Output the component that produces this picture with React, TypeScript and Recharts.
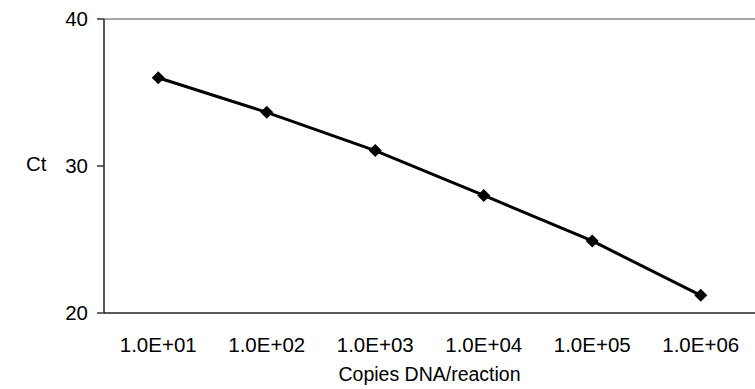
import { LineChart, Line, XAxis, YAxis, ReferenceLine } from 'recharts'

const copies = ['1.0E+01', '1.0E+02', '1.0E+03', '1.0E+04', '1.0E+05', '1.0E+06']
const ctValues = [36.0, 33.65, 31.05, 28.0, 24.9, 21.2]
const yTicks = [20, 30, 40]

const chartData = copies.map((c, i) => ({ copies: c, ct: ctValues[i] }))

const font = '"Liberation Sans", Arial, sans-serif'
const fs = 20.5

function Diamond(props: any) {
  const { cx, cy } = props
  if (cx == null || cy == null) return null
  const r = 6.5
  return (
    <polygon
      points={`${cx},${cy - r} ${cx + r},${cy} ${cx},${cy + r} ${cx - r},${cy}`}
      fill="#000"
      stroke="none"
    />
  )
}

export default function App() {
  return (
    <div style={{ position: 'absolute', left: 0, top: 0, background: '#fff', fontFamily: font }}>
      <LineChart width={755} height={389} data={chartData} margin={{ top: 19, right: 0, left: 0, bottom: 0 }}>
        <XAxis
          dataKey="copies"
          scale="band"
          height={76}
          tickLine={false}
          tickSize={0}
          tickMargin={24}
          axisLine={{ stroke: '#222', strokeWidth: 1.5 }}
          tick={{ fontSize: fs, fill: '#000', fontFamily: font }}
          label={{ value: 'Copies DNA/reaction', position: 'insideBottom', offset: 8, fontSize: 19.5, fill: '#000', fontFamily: font }}
        />
        <YAxis
          width={104}
          domain={[20, 40]}
          ticks={yTicks}
          tickSize={7}
          tickMargin={9}
          tickLine={{ stroke: '#333', strokeWidth: 1.5 }}
          axisLine={{ stroke: '#222', strokeWidth: 1.5 }}
          tick={{ fontSize: fs, fill: '#000', fontFamily: font }}
          label={{ value: 'Ct', position: 'insideLeft', offset: 26, dy: -2, fontSize: fs, fill: '#000', fontFamily: font }}
        />
        <ReferenceLine y={40} stroke="#888" strokeWidth={1.5} />
        <Line
          type="linear"
          dataKey="ct"
          stroke="#000"
          strokeWidth={3}
          dot={<Diamond />}
          activeDot={false}
          isAnimationActive={false}
        />
      </LineChart>
    </div>
  )
}
